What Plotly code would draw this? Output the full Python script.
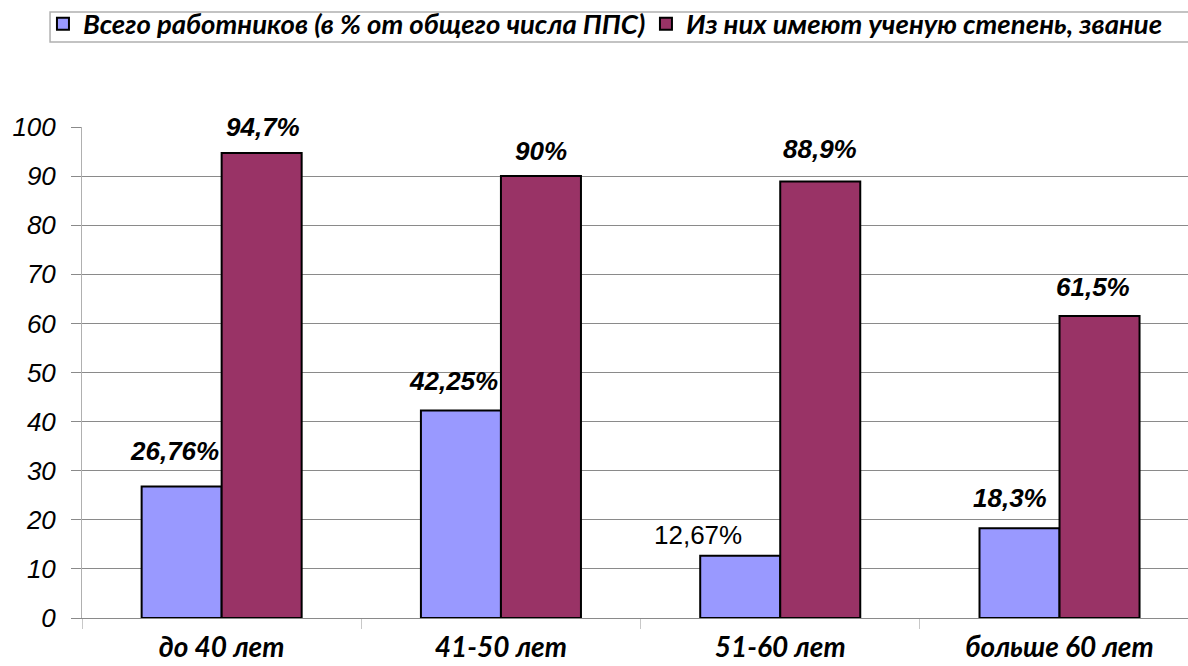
import plotly.graph_objects as go

# ---- data ----
categories = ["до 40 лет", "41-50 лет", "51-60 лет", "больше 60 лет"]
total_pct = [26.76, 42.25, 12.67, 18.3]
degree_pct = [94.7, 90, 88.9, 61.5]
total_labels = ["26,76%", "42,25%", "12,67%", "18,3%"]
degree_labels = ["94,7%", "90%", "88,9%", "61,5%"]
series_names = ["Всего работников (в % от общего числа ППС)",
                "Из них имеют ученую степень, звание"]
y_ticks = [0, 10, 20, 30, 40, 50, 60, 70, 80, 90, 100]

# ---- styles ----
COL_A = "#9999FF"
COL_B = "#993366"
GRID = "#8a8a8a"
LABEL_FONT = "Liberation Sans"
CAT_FONT = "Lato"

# label placement tweaks (pixels, relative to bar top-centre)
total_dx = [-7, -7, -42, -10]
total_dy = [36, 30, 21, 30]
total_bold = [True, True, False, True]
degree_dx = [1, 0, 0, -7]
degree_dy = [26, 25, 33, 29]
BAR_HALF = 40

fig = go.Figure()
fig.add_trace(go.Bar(x=categories, y=total_pct, name=series_names[0], legend="legend",
                     marker=dict(color=COL_A, line=dict(color="black", width=2))))
fig.add_trace(go.Bar(x=categories, y=degree_pct, name=series_names[1], legend="legend2",
                     marker=dict(color=COL_B, line=dict(color="black", width=2))))

anns = []
for i, c in enumerate(categories):
    anns.append(dict(x=c, y=total_pct[i], xref="x", yref="y", text=total_labels[i],
                     showarrow=False, xshift=-BAR_HALF + total_dx[i], yshift=total_dy[i],
                     yanchor="middle", xanchor="center",
                     font=dict(family=LABEL_FONT, size=26, color="black",
                               weight="bold" if total_bold[i] else "normal",
                               style="italic" if total_bold[i] else "normal")))
    anns.append(dict(x=c, y=degree_pct[i], xref="x", yref="y", text=degree_labels[i],
                     showarrow=False, xshift=BAR_HALF + degree_dx[i], yshift=degree_dy[i],
                     yanchor="middle", xanchor="center",
                     font=dict(family=LABEL_FONT, size=26, color="black",
                               weight="bold", style="italic")))

# legend frame (drawn as a shape so it can be tighter than plotly's own border)
legend_box = dict(type="rect", xref="paper", yref="paper",
                  x0=-0.0289, x1=1.02, y0=1.1731, y1=1.2342,
                  line=dict(color="#b0b0b0", width=1.5), fillcolor="rgba(0,0,0,0)", layer="above")

legend_font = dict(family=CAT_FONT, size=27.5, color="black", weight="bold", style="italic")

fig.update_layout(
    width=1188, height=666,
    margin=dict(l=82, r=0, t=127, b=48, autoexpand=False),
    paper_bgcolor="white", plot_bgcolor="white",
    barmode="group", bargap=0.427, bargroupgap=0,
    annotations=anns,
    shapes=[legend_box],
    showlegend=True,
    legend=dict(orientation="h", x=-0.0353, xanchor="left", y=1.210, yanchor="middle",
                bgcolor="rgba(0,0,0,0)", borderwidth=0, font=legend_font, itemwidth=30),
    legend2=dict(orientation="h", x=0.5099, xanchor="left", y=1.210, yanchor="middle",
                 bgcolor="rgba(0,0,0,0)", borderwidth=0, font=legend_font, itemwidth=30),
    xaxis=dict(range=[-0.5, 3.46], showgrid=False, showline=True, linecolor=GRID, linewidth=1,
               ticks="outside", tickson="boundaries", ticklen=10, tickcolor="#c8c8c8",
               tickfont=dict(family=CAT_FONT, size=28, color="black", weight="bold", style="italic"),
               ticklabelstandoff=4, automargin=False, fixedrange=True),
    yaxis=dict(range=[0, 100], tickvals=y_ticks, showgrid=True, gridcolor=GRID, gridwidth=1,
               showline=True, linecolor="#b0b0b0", linewidth=1,
               ticks="outside", ticklen=10, tickcolor=GRID,
               tickfont=dict(family=LABEL_FONT, size=26, color="black", style="italic"),
               ticklabelstandoff=10, automargin=False,
               zeroline=False, fixedrange=True),
)

fig.write_html("out.html", config={"displayModeBar": False},
               post_script="document.body.style.margin='0';document.body.style.overflow='hidden';")
